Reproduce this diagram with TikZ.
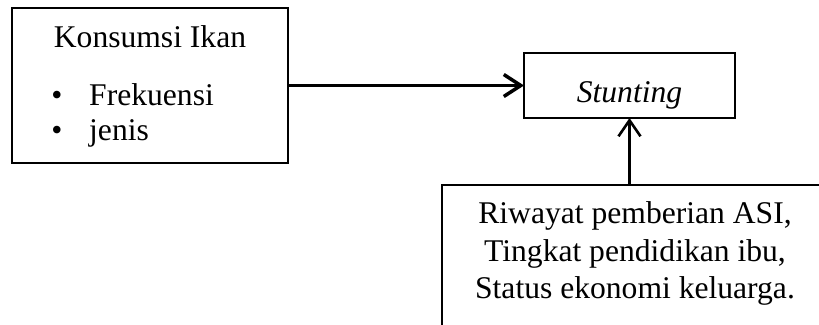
\documentclass[tikz,border=0pt]{standalone}
\usepackage{fontspec}
\setmainfont{Liberation Serif}
\usetikzlibrary{arrows.meta}
\begin{document}
\begin{tikzpicture}[x=1pt,y=-1pt,
  box/.style={draw=black,line width=1.5pt,inner sep=0pt,outer sep=0pt},
  txt/.style={inner sep=0pt,anchor=base,font=\fontsize{31.6}{37}\selectfont},
  mainarrow/.style={line width=3pt,-{Straight Barb[length=17pt,width=22pt,line width=3.5pt]}},
  sidearrow/.style={line width=2.2pt,-{Straight Barb[length=16pt,width=22pt,line width=2.6pt]}}]
\useasboundingbox (0,0) rectangle (819,324);
\clip (0,0) rectangle (819,324);
% boxes
\node[box,minimum width=276pt,minimum height=155pt] (fish) at (150,85.5) {};
\node[box,minimum width=211pt,minimum height=65pt] (stunt) at (629.5,85.5) {};
\node[box,minimum width=382pt,minimum height=175pt] (other) at (633,272.5) {};
% texts of the left box
\node[txt] (fishtitle) at (150,47) {Konsumsi Ikan};
\node[txt] (b1) at (57,105) {•};
\node[txt,anchor=base west] (freq) at (89,105) {Frekuensi};
\node[txt] (b2) at (57,140) {•};
\node[txt,anchor=base west] (kind) at (89,140) {jenis};
% outcome
\node[txt] (stunttext) at (629.5,102) {\itshape Stunting};
% other factors
\node[txt] (l1) at (635,223.5) {Riwayat pemberian ASI,};
\node[txt] (l2) at (635,261) {Tingkat pendidikan ibu,};
\node[txt] (l3) at (635,298) {Status ekonomi keluarga.};
% connectors
\draw[mainarrow] (fish.east) -- (stunt.west);
\draw[sidearrow] (other.north -| stunt.south) -- (stunt.south);
\end{tikzpicture}
\end{document}
